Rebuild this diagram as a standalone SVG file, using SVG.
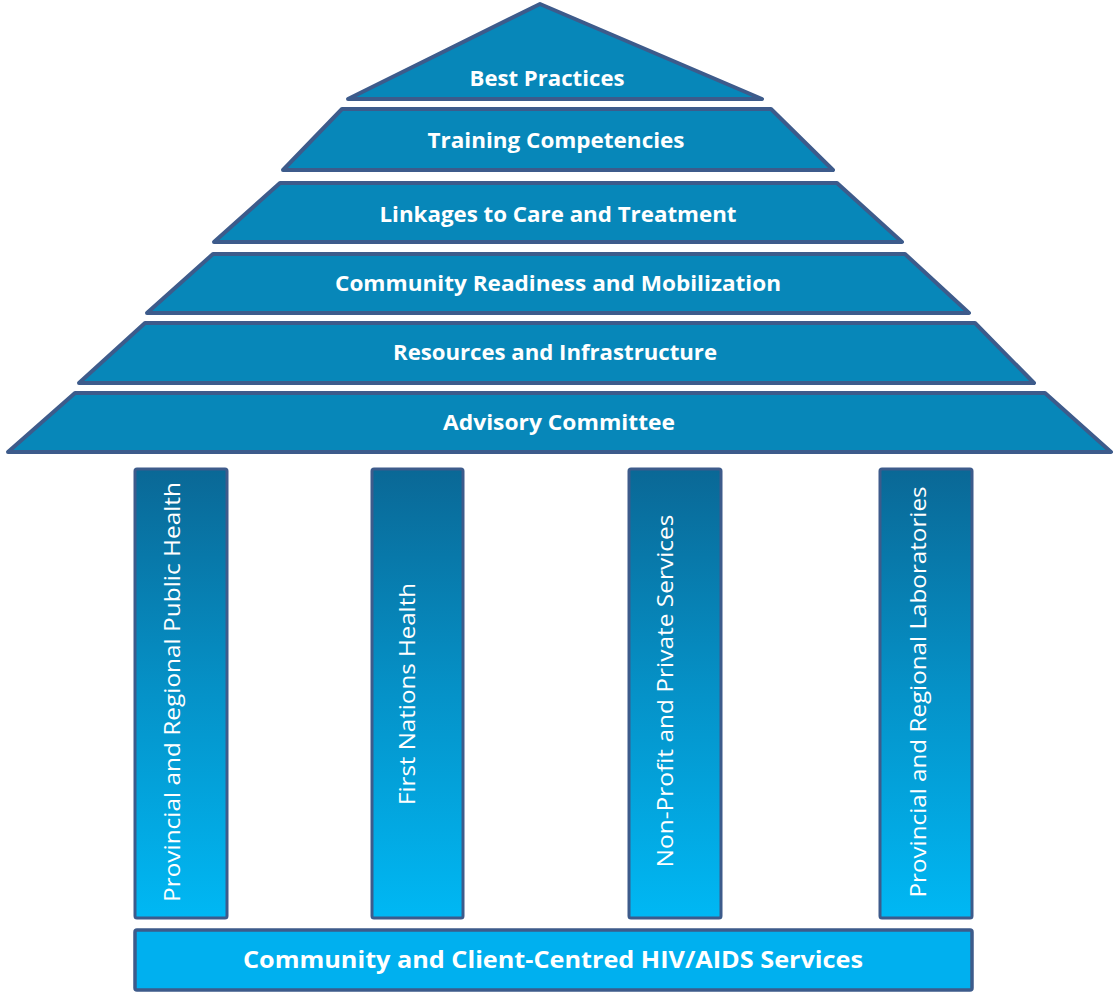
<svg xmlns="http://www.w3.org/2000/svg" width="1115" height="993" viewBox="0 0 1115 993">
<defs>
<linearGradient id="pg" x1="0" y1="0" x2="0" y2="1">
<stop offset="0" stop-color="#0a6896"/>
<stop offset="0.5" stop-color="#0592c8"/>
<stop offset="1" stop-color="#00b8f4"/>
</linearGradient>
<style>
.lvl{fill:#0787b9;stroke:#3d5b8b;stroke-width:4;stroke-linejoin:round}
.pil{fill:url(#pg);stroke:#3d5b8b;stroke-width:3}
.base{fill:#00b0ef;stroke:#3d5b8b;stroke-width:3.5}
.t{font-family:"Open Sans","Liberation Sans",sans-serif;fill:#ffffff;text-anchor:middle}
.b{font-weight:700;font-size:21px}
.r{font-weight:400;font-size:21px}
</style>
</defs>
<rect width="1115" height="993" fill="#ffffff"/>
<g id="best-practices">
<polygon class="lvl" points="540,4 762,99 348,99"/>
<text class="t b" x="547" y="86" textLength="155" lengthAdjust="spacingAndGlyphs">Best Practices</text>
</g>
<g id="training">
<polygon class="lvl" points="342,109 771,109 833,170 283,170"/>
<text class="t b" x="556" y="148" textLength="257" lengthAdjust="spacingAndGlyphs">Training  Competencies</text>
</g>
<g id="linkages">
<polygon class="lvl" points="280,183 837,183 902,242 214,242"/>
<text class="t b" x="558" y="222" textLength="357" lengthAdjust="spacingAndGlyphs">Linkages to Care and Treatment</text>
</g>
<g id="community-readiness">
<polygon class="lvl" points="213,254 905,254 969,313 147,313"/>
<text class="t b" x="558" y="291" textLength="446" lengthAdjust="spacingAndGlyphs">Community  Readiness and Mobilization</text>
</g>
<g id="resources">
<polygon class="lvl" points="145,323 975,323 1034,383 79,383"/>
<text class="t b" x="555" y="360" textLength="324" lengthAdjust="spacingAndGlyphs">Resources and Infrastructure</text>
</g>
<g id="advisory">
<polygon class="lvl" points="75,393 1045,393 1111,452 8,452"/>
<text class="t b" x="559" y="430" textLength="232" lengthAdjust="spacingAndGlyphs">Advisory  Committee</text>
</g>
<g id="pillar-public-health">
<rect class="pil" x="135" y="469" width="92" height="449" rx="2"/>
<text class="t r" transform="translate(180,692) rotate(-90)" textLength="420" lengthAdjust="spacingAndGlyphs">Provincial  and Regional Public Health</text>
</g>
<g id="pillar-first-nations">
<rect class="pil" x="372" y="469" width="91" height="449" rx="2"/>
<text class="t r" transform="translate(415,694) rotate(-90)" textLength="222" lengthAdjust="spacingAndGlyphs">First Nations Health</text>
</g>
<g id="pillar-non-profit">
<rect class="pil" x="629" y="469" width="92" height="449" rx="2"/>
<text class="t r" transform="translate(673,691) rotate(-90)" textLength="353" lengthAdjust="spacingAndGlyphs">Non-Profit  and Private Services</text>
</g>
<g id="pillar-laboratories">
<rect class="pil" x="880" y="469" width="92" height="449" rx="2"/>
<text class="t r" transform="translate(926,692) rotate(-90)" textLength="411" lengthAdjust="spacingAndGlyphs">Provincial  and Regional Laboratories</text>
</g>
<g id="foundation">
<rect class="base" x="135" y="930" width="837" height="60" rx="2"/>
<text class="t b" x="553" y="968" style="font-size:24px" textLength="620" lengthAdjust="spacingAndGlyphs">Community and Client-Centred HIV/AIDS Services</text>
</g>
<g id="connectors"></g>
</svg>
